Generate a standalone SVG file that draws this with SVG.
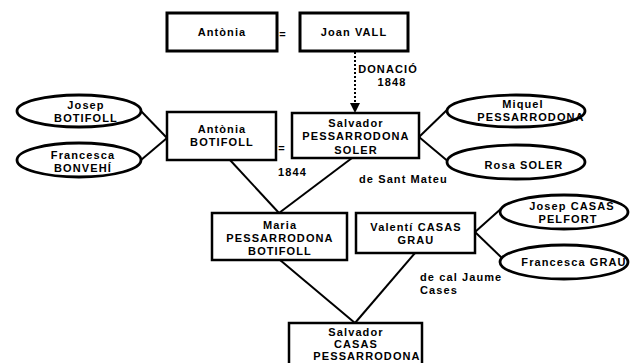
<svg xmlns="http://www.w3.org/2000/svg" width="637" height="363" viewBox="0 0 637 363">
<defs>
<style>
text{font-family:"Liberation Sans",Arial,sans-serif;font-weight:bold;font-size:11px;letter-spacing:1.1px;fill:#000}
.c{text-anchor:middle}
.box{fill:#fff;stroke:#000;stroke-width:2.5}
.top{stroke-width:3}
.ell{fill:#fff;stroke:#000;stroke-width:2.8}
.ln{stroke:#000;stroke-width:2;fill:none}
</style>
<marker id="ah" markerWidth="10" markerHeight="10" refX="9" refY="5" orient="auto" markerUnits="userSpaceOnUse">
<path d="M0,0 L10,5 L0,10 z" fill="#000"/>
</marker>
</defs>
<rect width="637" height="363" fill="#fff"/>
<g id="connectors">
<line class="ln" x1="355" y1="52" x2="355" y2="112" stroke-dasharray="2,2" marker-end="url(#ah)"/>
<line class="ln" x1="140" y1="110" x2="167" y2="138"/>
<line class="ln" x1="141" y1="160" x2="167" y2="138"/>
<line class="ln" x1="419" y1="137" x2="450" y2="107"/>
<line class="ln" x1="419" y1="137" x2="450" y2="163"/>
<line class="ln" x1="230" y1="160" x2="279" y2="213"/>
<line class="ln" x1="352" y1="158" x2="279" y2="213"/>
<line class="ln" x1="475" y1="232" x2="503" y2="207"/>
<line class="ln" x1="475" y1="232" x2="503" y2="259"/>
<line class="ln" x1="280" y1="260" x2="355" y2="323"/>
<line class="ln" x1="415" y1="253" x2="355" y2="323"/>
<text x="283" y="38" class="c">=</text>
<text x="282" y="152" class="c">=</text>
<text x="388" y="73" class="c">DONACIÓ</text>
<text x="392" y="86" class="c">1848</text>
<text x="278" y="176">1844</text>
<text x="359" y="183">de Sant Mateu</text>
<text x="420" y="281">de cal Jaume</text>
<text x="420" y="294">Cases</text>
</g>
<g id="antonia">
<rect class="box top" x="167" y="13" width="110" height="38"/>
<text x="222" y="36" class="c">Antònia</text>
</g>
<g id="joan-vall">
<rect class="box top" x="300" y="13" width="108" height="38"/>
<text x="354" y="36" class="c">Joan VALL</text>
</g>
<g id="josep-botifoll">
<ellipse class="ell" cx="79" cy="111" rx="62" ry="16"/>
<text x="86" y="109" class="c">Josep</text>
<text x="86" y="122" class="c">BOTIFOLL</text>
</g>
<g id="francesca-bonvehi">
<ellipse class="ell" cx="79" cy="160" rx="62" ry="17"/>
<text x="83" y="159" class="c">Francesca</text>
<text x="83" y="172" class="c">BONVEHÍ</text>
</g>
<g id="antonia-botifoll">
<rect class="box" x="167" y="112" width="109" height="48"/>
<text x="222" y="133" class="c">Antònia</text>
<text x="222" y="146" class="c">BOTIFOLL</text>
</g>
<g id="salvador-pessarrodona">
<rect class="box" x="292" y="113" width="127" height="45"/>
<text x="356" y="127" class="c">Salvador</text>
<text x="356" y="140" class="c">PESSARRODONA</text>
<text x="356" y="154" class="c">SOLER</text>
</g>
<g id="miquel-pessarrodona">
<ellipse class="ell" cx="516" cy="111" rx="69" ry="16"/>
<text x="523" y="108" class="c">Miquel</text>
<text x="531" y="121" class="c">PESSARRODONA</text>
</g>
<g id="rosa-soler">
<ellipse class="ell" cx="516" cy="162" rx="69" ry="17"/>
<text x="524" y="169" class="c">Rosa SOLER</text>
</g>
<g id="maria">
<rect class="box" x="212" y="213" width="135" height="47"/>
<text x="280" y="229" class="c">Maria</text>
<text x="280" y="242" class="c">PESSARRODONA</text>
<text x="280" y="255" class="c">BOTIFOLL</text>
</g>
<g id="valenti">
<rect class="box" x="356" y="213" width="119" height="40"/>
<text x="416" y="231" class="c">Valentí CASAS</text>
<text x="416" y="244" class="c">GRAU</text>
</g>
<g id="josep-casas">
<ellipse class="ell" cx="564" cy="212" rx="64" ry="17"/>
<text x="572" y="210" class="c">Josep CASAS</text>
<text x="568" y="223" class="c">PELFORT</text>
</g>
<g id="francesca-grau">
<ellipse class="ell" cx="564" cy="262" rx="64" ry="17"/>
<text x="574" y="266" class="c">Francesca GRAU</text>
</g>
<g id="salvador-casas">
<rect class="box" x="289" y="323" width="133" height="50"/>
<text x="356" y="336" class="c">Salvador</text>
<text x="356" y="348" class="c">CASAS</text>
<text x="367" y="360" class="c">PESSARRODONA</text>
</g>
</svg>
